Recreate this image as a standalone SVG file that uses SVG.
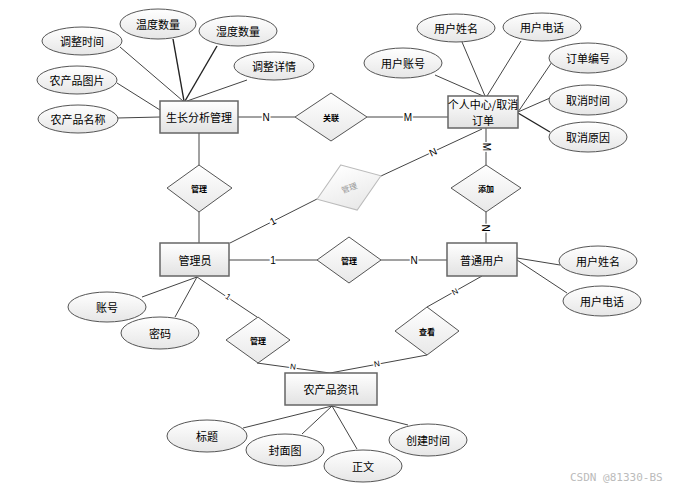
<svg xmlns="http://www.w3.org/2000/svg" width="682" height="489" viewBox="0 0 682 489">
<defs>
<linearGradient id="gE" x1="0" y1="0" x2="0" y2="1"><stop offset="0" stop-color="#ffffff"/><stop offset="1" stop-color="#e6e6e6"/></linearGradient>
<linearGradient id="gR" x1="0" y1="0" x2="0" y2="1"><stop offset="0" stop-color="#ffffff"/><stop offset="1" stop-color="#e2e2e2"/></linearGradient>
<linearGradient id="gD" x1="0" y1="0" x2="0" y2="1"><stop offset="0" stop-color="#ffffff"/><stop offset="1" stop-color="#e8e8e8"/></linearGradient>
</defs>
<style>
text{font-family:"Noto Sans CJK SC","Liberation Sans",sans-serif;text-anchor:middle;dominant-baseline:central;fill:#000}
.attr ellipse{fill:url(#gE);stroke:#555;stroke-width:1}
.attr text{font-size:11px}
.ent rect{fill:url(#gR);stroke:#666;stroke-width:1.5}
.ent text{font-size:11px}
.rel polygon{fill:url(#gD);stroke:#555;stroke-width:1}
.rel text{font-size:8px;font-weight:bold}
.faint polygon{stroke:#bbb}
.faint text{fill:#999;font-weight:normal}
#connectors line{stroke:#444;stroke-width:1}
#connectors .thick{stroke:#222;stroke-width:1.4}
.lbl{font-size:10px;font-family:"Liberation Sans",sans-serif;paint-order:stroke;stroke:#fff;stroke-width:3px}
.wm{font-size:11px;fill:#bbb;font-family:"DejaVu Sans Mono",monospace;text-anchor:start}
</style>

<g id="connectors">
<!-- 生长分析管理 attributes -->
<line x1="120" y1="47" x2="183" y2="101"/>
<line class="thick" x1="173" y1="39" x2="184" y2="101"/>
<line class="thick" x1="217" y1="46" x2="185" y2="101"/>
<line x1="247" y1="80" x2="187" y2="101"/>
<line x1="117" y1="83" x2="160" y2="110"/>
<line x1="117" y1="118" x2="160" y2="117"/>
<!-- 生长分析管理 - 关联 - 个人中心 -->
<line x1="238" y1="117" x2="295" y2="117"/>
<line x1="367" y1="117" x2="448" y2="117"/>
<!-- 个人中心 attributes -->
<line x1="435" y1="75" x2="483" y2="96"/>
<line x1="462" y1="42" x2="485" y2="96"/>
<line x1="521" y1="41" x2="487" y2="96"/>
<line x1="552" y1="62" x2="518" y2="112"/>
<line x1="550" y1="98" x2="518" y2="112"/>
<line class="thick" x1="550" y1="132" x2="518" y2="113"/>
<!-- vertical 生长 - 管理 - 管理员 -->
<line x1="199" y1="133" x2="199" y2="165"/>
<line x1="199" y1="212" x2="199" y2="243"/>
<!-- 管理员 - faint 管理 - 个人中心 -->
<line x1="230" y1="243" x2="317" y2="199"/>
<line x1="381" y1="176" x2="482" y2="129"/>
<!-- 个人中心 - 添加 - 普通用户 -->
<line x1="486" y1="128" x2="486" y2="165"/>
<line x1="486" y1="212" x2="486" y2="243"/>
<!-- 管理员 - 管理 - 普通用户 -->
<line x1="229" y1="260" x2="317" y2="260"/>
<line x1="381" y1="260" x2="447" y2="260"/>
<!-- 普通用户 attributes -->
<line x1="517" y1="258" x2="560" y2="265"/>
<line x1="517" y1="260" x2="567" y2="293"/>
<!-- 普通用户 - 查看 - 农产品资讯 -->
<line x1="482" y1="276" x2="427" y2="307"/>
<line x1="427" y1="355" x2="330" y2="373"/>
<!-- 管理员 attributes -->
<line x1="197" y1="277" x2="142" y2="297"/>
<line x1="197" y1="277" x2="175" y2="317"/>
<!-- 管理员 - 管理 - 农产品资讯 -->
<line x1="197" y1="277" x2="257" y2="317"/>
<line x1="257" y1="363" x2="330" y2="373"/>
<!-- 农产品资讯 attributes -->
<line x1="332" y1="406" x2="243" y2="428"/>
<line x1="332" y1="406" x2="302" y2="434"/>
<line x1="332" y1="406" x2="357" y2="449"/>
<line x1="332" y1="406" x2="408" y2="425"/>
<!-- cardinality labels -->
<text class="lbl" x="266" y="117">N</text>
<text class="lbl" x="408" y="117">M</text>
<text class="lbl" x="486" y="147" transform="rotate(90 486 147)">M</text>
<text class="lbl" x="485" y="228" transform="rotate(90 485 228)">N</text>
<text class="lbl" x="433" y="152" transform="rotate(-25 433 152)">N</text>
<text class="lbl" x="273" y="221" transform="rotate(-27 273 221)">1</text>
<text class="lbl" x="273" y="260">1</text>
<text class="lbl" x="414" y="260">N</text>
<text class="lbl" x="455" y="292" transform="rotate(-29 455 292)" style="font-size:8px">N</text>
<text class="lbl" x="377" y="364" transform="rotate(-10 377 364)" style="font-size:8px">N</text>
<text class="lbl" x="228" y="297" transform="rotate(34 228 297)" style="font-size:8px">1</text>
<text class="lbl" x="293" y="367" transform="rotate(8 293 367)" style="font-size:8px">N</text>
</g>

<!-- entities -->
<g id="e-growth" class="ent"><rect x="160" y="101" width="78" height="32"/><text x="199" y="117">生长分析管理</text></g>
<g id="e-center" class="ent"><rect x="448" y="96" width="70" height="32"/><text x="483" y="104">个人中心/取消</text><text x="483" y="120">订单</text></g>
<g id="e-admin" class="ent"><rect x="160" y="243" width="69" height="33"/><text x="195" y="260">管理员</text></g>
<g id="e-user" class="ent"><rect x="447" y="243" width="70" height="33"/><text x="482" y="260">普通用户</text></g>
<g id="e-news" class="ent"><rect x="285" y="373" width="92" height="32"/><text x="331" y="389">农产品资讯</text></g>

<!-- relationships -->
<g id="r-assoc" class="rel"><polygon points="331,93 367,117 331,141 295,117"/><text x="331" y="117">关联</text></g>
<g id="r-manage1" class="rel"><polygon points="199,165 232,188 199,212 167,188"/><text x="199" y="188">管理</text></g>
<g id="r-manage2" class="rel faint"><g transform="translate(349,187.5) rotate(-20)"><polygon points="0,-24 34,0 0,24 -34,0"/><text x="0" y="0">管理</text></g></g>
<g id="r-add" class="rel"><polygon points="486,165 521,188 486,212 451,188"/><text x="486" y="188">添加</text></g>
<g id="r-manage3" class="rel"><polygon points="349,237 381,260 349,283 317,260"/><text x="349" y="260">管理</text></g>
<g id="r-manage4" class="rel"><polygon points="258,317 290,340 258,363 226,340"/><text x="258" y="340">管理</text></g>
<g id="r-view" class="rel"><polygon points="427,307 459,331 427,355 395,331"/><text x="427" y="331">查看</text></g>

<!-- attributes -->
<g id="a-adjtime" class="attr"><ellipse cx="82" cy="41" rx="40" ry="14"/><text x="82" y="41">调整时间</text></g>
<g id="a-temp" class="attr"><ellipse cx="158" cy="24" rx="38" ry="15"/><text x="158" y="24">温度数量</text></g>
<g id="a-humid" class="attr"><ellipse cx="238" cy="31" rx="39" ry="15"/><text x="238" y="31">湿度数量</text></g>
<g id="a-adjdetail" class="attr"><ellipse cx="274" cy="66" rx="40" ry="14"/><text x="274" y="66">调整详情</text></g>
<g id="a-img" class="attr"><ellipse cx="77" cy="80" rx="40" ry="14"/><text x="77" y="80">农产品图片</text></g>
<g id="a-name" class="attr"><ellipse cx="78" cy="119" rx="40" ry="14"/><text x="78" y="119">农产品名称</text></g>

<g id="a-uname1" class="attr"><ellipse cx="456" cy="28" rx="39" ry="14"/><text x="456" y="28">用户姓名</text></g>
<g id="a-uphone1" class="attr"><ellipse cx="542" cy="27" rx="39" ry="14"/><text x="542" y="27">用户电话</text></g>
<g id="a-uacct" class="attr"><ellipse cx="403" cy="63" rx="39" ry="15"/><text x="403" y="63">用户账号</text></g>
<g id="a-orderno" class="attr"><ellipse cx="588" cy="58" rx="39" ry="15"/><text x="588" y="58">订单编号</text></g>
<g id="a-canceltime" class="attr"><ellipse cx="588" cy="100" rx="39" ry="15"/><text x="588" y="100">取消时间</text></g>
<g id="a-cancelreason" class="attr"><ellipse cx="588" cy="137" rx="39" ry="15"/><text x="588" y="137">取消原因</text></g>

<g id="a-uname2" class="attr"><ellipse cx="598" cy="261" rx="39" ry="15"/><text x="598" y="261">用户姓名</text></g>
<g id="a-uphone2" class="attr"><ellipse cx="602" cy="301" rx="39" ry="15"/><text x="602" y="301">用户电话</text></g>

<g id="a-acct" class="attr"><ellipse cx="107" cy="307" rx="39" ry="15"/><text x="107" y="307">账号</text></g>
<g id="a-pwd" class="attr"><ellipse cx="160" cy="333" rx="39" ry="16"/><text x="160" y="333">密码</text></g>

<g id="a-title" class="attr"><ellipse cx="207" cy="436" rx="40" ry="16"/><text x="207" y="436">标题</text></g>
<g id="a-cover" class="attr"><ellipse cx="285" cy="450" rx="39" ry="16"/><text x="285" y="450">封面图</text></g>
<g id="a-body" class="attr"><ellipse cx="363" cy="466" rx="39" ry="16"/><text x="363" y="466">正文</text></g>
<g id="a-created" class="attr"><ellipse cx="428" cy="440" rx="39" ry="16"/><text x="428" y="440">创建时间</text></g>

<text class="wm" x="570" y="477">CSDN @81330-BS</text>
</svg>
